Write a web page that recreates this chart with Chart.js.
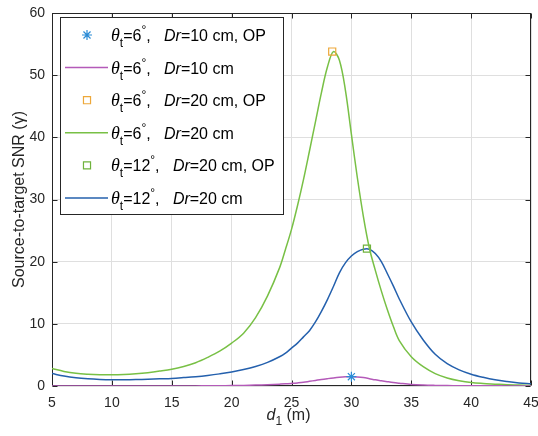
<!DOCTYPE html>
<html>
<head>
<meta charset="utf-8">
<script src="https://cdn.jsdelivr.net/npm/chart.js@4"></script>
<style>
  html, body { margin: 0; padding: 0; background: #fff; }
</style>
</head>
<body>
<canvas id="snrChart" width="538" height="436"></canvas>
<script>
// distance d1 (m), finer steps around the peaks
const distance = [5, 6, 7, 8, 9, 10, 11, 12, 13, 14, 15, 16, 17, 18, 19, 20, 21, 22, 23, 24,
  24.5, 25, 25.5, 26, 26.5, 27, 27.5, 28, 28.5, 29, 29.5, 30, 30.5, 31, 31.5, 32, 32.5, 33, 33.5,
  34, 35, 36, 37, 38, 39, 40, 41, 42, 43, 44, 45];

// theta_t = 6 deg, Dr = 10 cm
const snrTheta6Dr10 = [0.02, 0.02, 0.02, 0.02, 0.02, 0.02, 0.02, 0.02, 0.02, 0.02, 0.02, 0.02, 0.02, 0.03, 0.05, 0.07, 0.1, 0.15, 0.21, 0.3,
  0.35, 0.42, 0.5, 0.6, 0.75, 0.9, 1.05, 1.18, 1.3, 1.4, 1.47, 1.5, 1.45, 1.35, 1.18, 1.0, 0.85, 0.7, 0.56,
  0.45, 0.25, 0.15, 0.1, 0.07, 0.05, 0.04, 0.03, 0.03, 0.02, 0.02, 0.02];

// theta_t = 6 deg, Dr = 20 cm
const snrTheta6Dr20 = [2.8, 2.35, 2.05, 1.9, 1.82, 1.8, 1.85, 1.97, 2.15, 2.4, 2.7, 3.15, 3.75, 4.6, 5.6, 6.9, 8.5, 11.0, 14.5, 19.0,
  22.0, 25.2, 29.0, 33.2, 37.8, 42.5, 47.2, 51.3, 53.8, 52.4, 47.6, 40.5, 33.5, 27.3, 22.2, 18.6, 15.3, 12.3, 9.6,
  7.3, 4.7, 3.1, 2.0, 1.3, 0.85, 0.55, 0.4, 0.3, 0.2, 0.15, 0.1];

// theta_t = 12 deg, Dr = 20 cm
const snrTheta12Dr20 = [2.0, 1.6, 1.32, 1.15, 1.05, 1.0, 1.0, 1.03, 1.08, 1.15, 1.22, 1.35, 1.5, 1.7, 1.95, 2.25, 2.65, 3.15, 3.8, 4.7,
  5.3, 6.1, 6.9, 7.9, 8.9, 10.3, 12.0, 13.9, 16.0, 18.2, 19.8, 20.9, 21.6, 22.0, 22.0, 21.3, 20.0, 18.1, 16.1,
  14.0, 10.3, 7.4, 5.1, 3.6, 2.6, 1.9, 1.4, 1.0, 0.72, 0.5, 0.35];

// optimal points (OP)
const opDistance = [30, 28.4, 31.3];
const opSnr = [1.5, 53.8, 22.1];

const xTicks = [5, 10, 15, 20, 25, 30, 35, 40, 45];
const yTicks = [0, 10, 20, 30, 40, 50, 60];

// legend text pieces
const legendTheta = ['6', '6', '6', '6', '12', '12'];
const legendDr = ['10', '10', '20', '20', '20', '20'];
const legendOP = [true, false, true, false, true, false];

const FONT = '"Liberation Sans", Arial, Helvetica, sans-serif';
const SERIF = '"Liberation Serif", "Times New Roman", serif';

function toPoints(xs, ys) {
  return xs.map((x, i) => ({ x: x, y: ys[i] }));
}

function drawMarker(ctx, style, x, y, r) {
  ctx.beginPath();
  if (style === 'star') {
    for (let k = 0; k < 4; k++) {
      const a = k * Math.PI / 4;
      ctx.moveTo(x - r * Math.cos(a), y - r * Math.sin(a));
      ctx.lineTo(x + r * Math.cos(a), y + r * Math.sin(a));
    }
  } else {
    const s = r * Math.SQRT1_2;
    ctx.rect(x - s, y - s, 2 * s, 2 * s);
  }
  ctx.stroke();
}

function drawRich(ctx, x, y, parts) {
  parts.forEach(p => {
    ctx.font = p.font;
    ctx.fillText(p.t, x, y + (p.dy || 0));
    x += ctx.measureText(p.t).width;
  });
  return x;
}

// MATLAB style box, inward ticks and titles
const axesBox = {
  id: 'axesBox',
  beforeDatasetsDraw(chart) {
    const ctx = chart.ctx;
    const a = chart.chartArea;
    const xs = chart.scales.x, ys = chart.scales.y;
    const L = Math.round(a.left) + 0.5, R = Math.round(a.right) - 0.5;
    const T = Math.round(a.top) + 0.5, B = Math.round(a.bottom) - 0.5;
    ctx.save();
    ctx.strokeStyle = '#262626';
    ctx.lineWidth = 1;
    ctx.strokeRect(L, T, R - L, B - T);
    ctx.beginPath();
    xTicks.forEach(v => {
      const px = Math.round(xs.getPixelForValue(v)) + 0.5;
      ctx.moveTo(px, B); ctx.lineTo(px, B - 5);
      ctx.moveTo(px, T); ctx.lineTo(px, T + 5);
    });
    yTicks.forEach(v => {
      const py = Math.round(ys.getPixelForValue(v)) + 0.5;
      ctx.moveTo(L, py); ctx.lineTo(L + 5, py);
      ctx.moveTo(R, py); ctx.lineTo(R - 5, py);
    });
    ctx.stroke();

    // axis titles
    ctx.fillStyle = '#262626';
    ctx.textBaseline = 'alphabetic';
    ctx.textAlign = 'left';
    const parts = [
      { t: 'd', font: 'italic 16px ' + FONT },
      { t: '1', font: '12px ' + FONT, dy: 5 },
      { t: ' (m)', font: '16px ' + FONT }
    ];
    let w = 0;
    parts.forEach(p => { ctx.font = p.font; w += ctx.measureText(p.t).width; });
    drawRich(ctx, (a.left + a.right) / 2 - w / 2 - 3, 420, parts);

    ctx.translate(23.5, (a.top + a.bottom) / 2);
    ctx.rotate(-Math.PI / 2);
    ctx.textAlign = 'center';
    ctx.font = '16px ' + FONT;
    ctx.fillText('Source-to-target SNR (\u03B3)', 0, 0);
    ctx.restore();
  }
};

const richLegend = {
  id: 'richLegend',
  afterDraw(chart) {
    const ctx = chart.ctx;
    const box = { x: 60, y: 17, w: 223, h: 197 };
    ctx.save();
    ctx.fillStyle = '#ffffff';
    ctx.fillRect(box.x, box.y, box.w, box.h);
    ctx.strokeStyle = '#262626';
    ctx.lineWidth = 1;
    ctx.strokeRect(box.x + 0.5, box.y + 0.5, box.w, box.h);

    chart.data.datasets.forEach((ds, i) => {
      const cy = 35 + i * 32.6;
      ctx.strokeStyle = ds.borderColor;
      ctx.lineWidth = ds.borderWidth;
      if (ds.showLine === false) {
        drawMarker(ctx, ds.pointStyle, 87, cy, ds.pointRadius);
      } else {
        ctx.beginPath();
        ctx.moveTo(65, cy); ctx.lineTo(108, cy);
        ctx.stroke();
      }
      ctx.fillStyle = '#000';
      ctx.textAlign = 'left';
      ctx.textBaseline = 'alphabetic';
      drawRich(ctx, 111, cy + 6, [
        { t: '\u03B8', font: 'italic 18px ' + SERIF },
        { t: 't', font: '12px ' + FONT, dy: 6 },
        { t: '=' + legendTheta[i], font: '16px ' + FONT },
        { t: '\u00B0', font: '12px ' + FONT, dy: -7 },
        { t: ',   ', font: '16px ' + FONT },
        { t: 'Dr', font: 'italic 16px ' + FONT },
        { t: '=' + legendDr[i] + ' cm' + (legendOP[i] ? ', OP' : ''), font: '16px ' + FONT }
      ]);
    });
    ctx.restore();
  }
};

const lineStyle = { pointRadius: 0, borderWidth: 1.5, tension: 0.35, fill: false };

new Chart(document.getElementById('snrChart').getContext('2d'), {
  type: 'line',
  data: {
    datasets: [
      { label: 'theta 6, Dr 10, OP', data: toPoints([opDistance[0]], [opSnr[0]]), showLine: false,
        pointStyle: 'star', pointRadius: 5, borderWidth: 1.2, borderColor: '#2a8bd6', pointBorderColor: '#2a8bd6', backgroundColor: 'transparent' },
      Object.assign({ label: 'theta 6, Dr 10', data: toPoints(distance, snrTheta6Dr10), borderColor: '#b45ab9' }, lineStyle),
      { label: 'theta 6, Dr 20, OP', data: toPoints([opDistance[1]], [opSnr[1]]), showLine: false,
        pointStyle: 'rect', pointRadius: 5, borderWidth: 1.2, borderColor: '#eda83a', pointBorderColor: '#eda83a', backgroundColor: 'transparent' },
      Object.assign({ label: 'theta 6, Dr 20', data: toPoints(distance, snrTheta6Dr20), borderColor: '#78c045' }, lineStyle),
      { label: 'theta 12, Dr 20, OP', data: toPoints([opDistance[2]], [opSnr[2]]), showLine: false,
        pointStyle: 'rect', pointRadius: 5, borderWidth: 1.2, borderColor: '#6fb23c', pointBorderColor: '#6fb23c', backgroundColor: 'transparent' },
      Object.assign({ label: 'theta 12, Dr 20', data: toPoints(distance, snrTheta12Dr20), borderColor: '#2460ad' }, lineStyle)
    ]
  },
  options: {
    responsive: false,
    animation: false,
    events: [],
    layout: { padding: { top: 13, right: 7, left: 0, bottom: 0 } },
    plugins: { legend: { display: false }, tooltip: { enabled: false } },
    scales: {
      x: {
        type: 'linear',
        min: 5,
        max: 45,
        afterFit(scale) { scale.height = 50; scale.paddingLeft = 0; scale.paddingRight = 0; },
        afterBuildTicks(scale) { scale.ticks = xTicks.map(v => ({ value: v })); },
        ticks: { color: '#262626', padding: 9, maxRotation: 0, font: { family: FONT, size: 14 } },
        grid: { color: '#dfdfdf', drawTicks: false },
        border: { display: false }
      },
      y: {
        min: 0,
        max: 60,
        afterFit(scale) { scale.width = 52; scale.paddingTop = 0; scale.paddingBottom = 0; },
        afterBuildTicks(scale) { scale.ticks = yTicks.map(v => ({ value: v })); },
        ticks: { color: '#262626', padding: 7, font: { family: FONT, size: 14 } },
        grid: { color: '#dfdfdf', drawTicks: false },
        border: { display: false }
      }
    }
  },
  plugins: [axesBox, richLegend]
});
</script>
</body>
</html>
